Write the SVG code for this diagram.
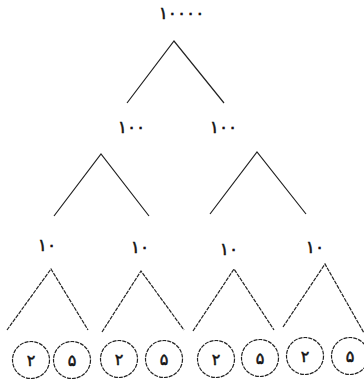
<svg xmlns="http://www.w3.org/2000/svg" width="364" height="385" viewBox="0 0 364 385">
<style>
.t{font-family:"DejaVu Sans",sans-serif;font-size:17px;fill:#111;stroke:#111;stroke-width:0.5;text-anchor:middle}
.c{font-family:"DejaVu Sans",sans-serif;font-size:16px;fill:#111;stroke:#111;stroke-width:0.5;text-anchor:middle}
.l{stroke:#222;stroke-width:1.2;fill:none}
.d{stroke:#222;stroke-width:1.2;fill:none;stroke-dasharray:4 1}
</style>
<rect width="364" height="385" fill="#fff"/>
<g id="connectors">
<path class="l" d="M127,103 L174,41 L224,103"/>
<path class="l" d="M54,216 L101,154 L149,216"/>
<path class="l" d="M210,214 L257,152 L306,214"/>
<path class="d" d="M7,330 L51,269 L88,330"/>
<path class="d" d="M102,332 L141,271 L184,330"/>
<path class="d" d="M193,331 L234,269 L274,330"/>
<path class="d" d="M283,327 L325,264 L364,333"/>
</g>
<g id="n10000"><text class="t" x="181.5" y="19" letter-spacing="7">۱۰۰۰۰</text></g>
<g id="n100a"><text class="t" x="131.5" y="133" letter-spacing="5">۱۰۰</text></g>
<g id="n100b"><text class="t" x="223.5" y="133" letter-spacing="5">۱۰۰</text></g>
<g id="n10a"><text class="t" x="47" y="251" letter-spacing="4">۱۰</text></g>
<g id="n10b"><text class="t" x="140" y="253" letter-spacing="4">۱۰</text></g>
<g id="n10c"><text class="t" x="229" y="255" letter-spacing="4">۱۰</text></g>
<g id="n10d"><text class="t" x="315" y="253" letter-spacing="4">۱۰</text></g>
<g id="c1"><circle class="d" cx="31" cy="360" r="18.5"/><text class="c" x="31" y="366">۲</text></g>
<g id="c2"><circle class="d" cx="72" cy="360" r="18.5"/><text class="c" x="72" y="366">۵</text></g>
<g id="c3"><circle class="d" cx="119" cy="359" r="18.5"/><text class="c" x="119" y="365">۲</text></g>
<g id="c4"><circle class="d" cx="164" cy="359" r="18.5"/><text class="c" x="164" y="365">۵</text></g>
<g id="c5"><circle class="d" cx="216" cy="359" r="18.5"/><text class="c" x="216" y="365">۲</text></g>
<g id="c6"><circle class="d" cx="260" cy="358" r="18.5"/><text class="c" x="260" y="364">۵</text></g>
<g id="c7"><circle class="d" cx="305" cy="356" r="18.5"/><text class="c" x="305" y="362">۲</text></g>
<g id="c8"><circle class="d" cx="350" cy="356" r="18.5"/><text class="c" x="350" y="362">۵</text></g>
</svg>
